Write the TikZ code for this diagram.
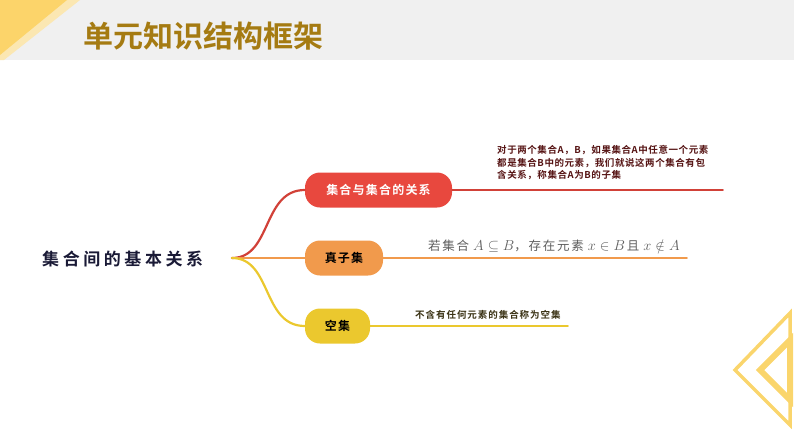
\documentclass[tikz,border=0pt]{standalone}
\usepackage{fontspec}
\usepackage{amsmath}
\usepackage{amssymb}
\usepackage{tikz}
\usepackage{xcolor}
\newfontfamily\cjk{Noto Sans CJK SC}[BoldFont={Noto Sans CJK SC Bold}]
\newcommand{\bigmath}[1]{\hspace{4pt}{\fontsize{15}{17}\selectfont$#1$}}
\definecolor{headgrey}{HTML}{F0F0F0}
\definecolor{headyellow}{HTML}{FCD46A}
\definecolor{stripeyellow}{HTML}{FBE7B2}
\definecolor{titlegold}{HTML}{A57B12}
\definecolor{rootnavy}{HTML}{1A1A36}
\definecolor{relred}{HTML}{E8483E}
\definecolor{properorange}{HTML}{F19A4C}
\definecolor{emptyyellow}{HTML}{EBC82E}
\definecolor{reltext}{HTML}{561414}
\definecolor{propertext}{HTML}{5E5E5E}
\definecolor{emptytext}{HTML}{3A3214}
\definecolor{chevron}{HTML}{FAD56C}
\tikzset{
    branch-pill/.style = {rectangle, rounded corners=15pt, minimum height=35pt, inner sep=0pt, font=\cjk\bfseries\fontsize{12}{14}\selectfont\addfontfeature{LetterSpace=10}},
    branch-line/.style = {line width=2.2pt, line cap=round},
    branch-desc/.style = {inner sep=0pt, align=left},
}
\begin{document}
\begin{tikzpicture}[x=1pt, y=-1pt]
\useasboundingbox (0,0) rectangle (794,447);
\fill[headgrey] (0,0) rectangle (794,60);
\fill[stripeyellow] (0,0) -- (80,0) -- (4,60) -- (0,60) -- cycle;
\fill[headyellow] (0,0) -- (67,0) -- (0,55) -- cycle;
\node[anchor=base west, inner sep=0pt, text=titlegold, font=\cjk\bfseries\fontsize{30}{32}\selectfont] (title) at (83,47) {单元知识结构框架};

\node[anchor=base west, inner sep=0pt, text=rootnavy, font=\cjk\bfseries\fontsize{17}{20}\selectfont\addfontfeature{LetterSpace=21}] (root) at (42,265) {集合间的基本关系};
\coordinate (hub) at (232,258);

\node[branch-pill, fill=relred, text=white, minimum width=147pt] (rel) at (378.5,190) {集合与集合的关系};
\node[branch-pill, fill=properorange, text=black, minimum width=78pt] (proper) at (344,258) {真子集};
\node[branch-pill, fill=emptyyellow, text=black, minimum width=65pt] (empty) at (337.5,326) {空集};

\draw[branch-line, relred!90!black] (hub) .. controls (272,258) and (262,190) .. (rel.west);
\draw[branch-line, properorange] (hub) -- (proper.west);
\draw[branch-line, emptyyellow] (hub) .. controls (272,258) and (262,326) .. (empty.west);

\coordinate (relend) at (723,190);
\coordinate (properend) at (687,258);
\coordinate (emptyend) at (568,326);
\draw[branch-line, line width=1.6pt, relred!90!black] (rel.east) -- (relend);
\draw[branch-line, line width=1.6pt, properorange] (proper.east) -- (properend);
\draw[branch-line, line width=1.6pt, emptyyellow] (empty.east) -- (emptyend);

\node[branch-desc, anchor=north west, text=reltext, font=\cjk\bfseries\fontsize{9.5}{12.7}\selectfont\addfontfeature{LetterSpace=6}] (reldesc) at (497,145) {对于两个集合A，B，如果集合A中任意一个元素\\都是集合B中的元素，我们就说这两个集合有包\\含关系，称集合A为B的子集};
\node[branch-desc, anchor=base west, text=propertext, font=\cjk\fontsize{12.5}{15}\selectfont\addfontfeature{LetterSpace=14}] (properdesc) at (428,250) {若集合\bigmath{A\subseteq B}，存在元素\bigmath{x\in B}\hspace{2pt}且\bigmath{x\notin A}};
\node[branch-desc, anchor=base west, text=emptytext, font=\cjk\bfseries\fontsize{9.5}{12}\selectfont\addfontfeature{LetterSpace=10}] (emptydesc) at (415,318.5) {不含有任何元素的集合称为空集};

\draw[chevron, line width=3.5pt, line join=miter] (790,313) -- (735,370) -- (790,425) -- cycle;
\draw[chevron, line width=6pt, line join=miter] (790,340) -- (760,370) -- (790,400) -- cycle;
\end{tikzpicture}
\end{document}
